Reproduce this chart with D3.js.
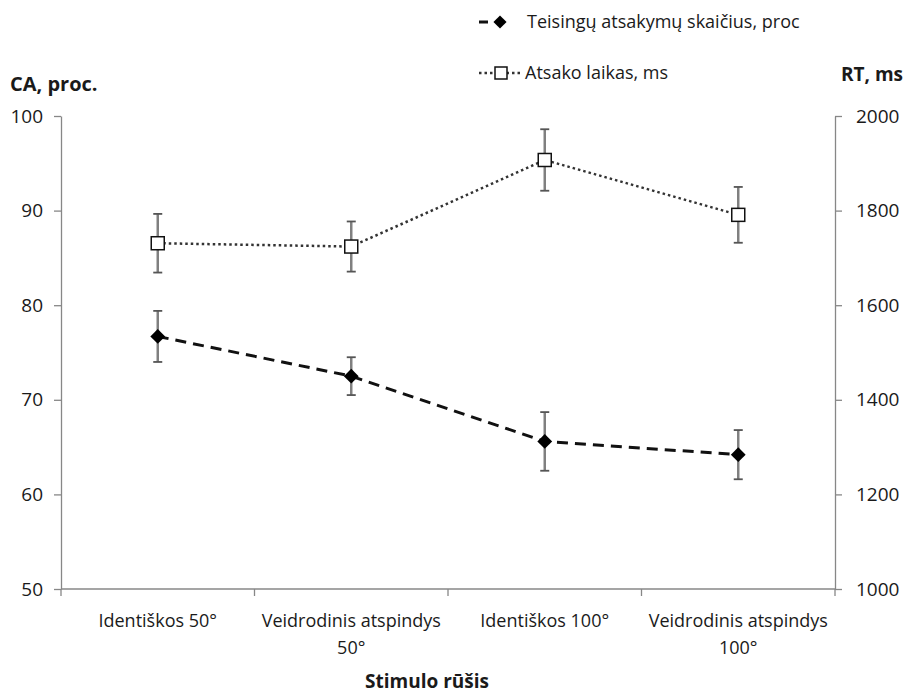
<!DOCTYPE html>
<html>
<head>
<meta charset="utf-8">
<script src="https://cdn.jsdelivr.net/npm/d3@7"></script>
<style>
  body { margin: 0; background: #fff; }
  svg text { font-family: "Open Sans", "Noto Sans", sans-serif; fill: #1a1a1a; }
</style>
</head>
<body>
<div id="chart"></div>
<script>
// categories on the x axis (each label split into lines)
var categories = [
    ['Identiškos 50°'],
    ['Veidrodinis atspindys', '50°'],
    ['Identiškos 100°'],
    ['Veidrodinis atspindys', '100°']
]

// CA (correct answers, %) with error
var caValues = [76.7, 72.5, 65.6, 64.2]
var caErrors = [2.7, 2.0, 3.1, 2.6]

// RT (response time, ms) with error
var rtValues = [1731, 1724, 1907, 1791]
var rtErrors = [62, 53, 65, 59]

var caTicks = [50, 60, 70, 80, 90, 100]
var rtTicks = [1000, 1200, 1400, 1600, 1800, 2000]

var seriesNames = ['Teisingų atsakymų skaičius, proc', 'Atsako laikas, ms']

var W = 907, H = 695
var plot = { left: 61, right: 835, top: 116, bottom: 589 }
var axisGrey = '#878787'

var svg = d3.select('#chart').append('svg')
    .attr('width', W)
    .attr('height', H)

// scales
var xScale = d3.scaleBand()
    .domain(d3.range(categories.length))
    .range([plot.left, plot.right])

var yLeft = d3.scaleLinear().domain([50, 100]).range([plot.bottom, plot.top])
var yRight = d3.scaleLinear().domain([1000, 2000]).range([plot.bottom, plot.top])

var cx = function(i) { return xScale(i) + xScale.bandwidth() / 2 }

// left axis
var leftAxis = svg.append('g')
    .attr('transform', 'translate(' + plot.left + ',0)')
    .call(d3.axisLeft(yLeft).tickValues(caTicks).tickSize(7).tickSizeOuter(0).tickPadding(11))
leftAxis.selectAll('.domain, line').attr('stroke', axisGrey).attr('stroke-width', 1.3)
leftAxis.selectAll('text').style('font-size', '19px').attr('fill', '#1a1a1a')

// right axis
var rightAxis = svg.append('g')
    .attr('transform', 'translate(' + plot.right + ',0)')
    .call(d3.axisRight(yRight).tickValues(rtTicks).tickFormat(d3.format('d'))
        .tickSize(7).tickSizeOuter(0).tickPadding(14))
rightAxis.selectAll('.domain, line').attr('stroke', axisGrey).attr('stroke-width', 1.3)
rightAxis.selectAll('text').style('font-size', '19px').attr('fill', '#1a1a1a')

// x axis (ticks between categories)
var xAxis = svg.append('g')
xAxis.append('line')
    .attr('x1', plot.left).attr('x2', plot.right)
    .attr('y1', plot.bottom).attr('y2', plot.bottom)
    .attr('stroke', axisGrey).attr('stroke-width', 1.3)
xAxis.selectAll('.xtick')
    .data(d3.range(categories.length + 1))
    .enter().append('line')
    .attr('x1', d => plot.left + d * xScale.step())
    .attr('x2', d => plot.left + d * xScale.step())
    .attr('y1', plot.bottom).attr('y2', plot.bottom + 7)
    .attr('stroke', axisGrey).attr('stroke-width', 1.3)

xAxis.selectAll('.xlabel')
    .data(categories)
    .enter().append('text')
    .attr('text-anchor', 'middle')
    .style('font-size', '18px')
    .each(function(d, i) {
        var t = d3.select(this)
        d.forEach(function(line, j) {
            t.append('tspan')
                .attr('x', cx(i))
                .attr('y', 627 + j * 27)
                .text(line)
        })
    })

// axis titles
svg.append('text').attr('x', 10).attr('y', 91)
    .style('font-size', '20px').style('font-weight', 'bold').text('CA, proc.')
svg.append('text').attr('x', 841).attr('y', 81)
    .style('font-size', '19px').style('font-weight', 'bold').text('RT, ms')
svg.append('text').attr('x', 427).attr('y', 688).attr('text-anchor', 'middle')
    .style('font-size', '19px').style('font-weight', 'bold').text('Stimulo rūšis')

// error bars
function errorBars(values, errors, scale) {
    var g = svg.append('g')
    values.forEach(function(v, i) {
        var x = cx(i), y1 = scale(v + errors[i]), y2 = scale(v - errors[i])
        g.append('line').attr('x1', x).attr('x2', x).attr('y1', y1).attr('y2', y2)
            .attr('stroke', '#808080').attr('stroke-width', 2.5)
        ;[y1, y2].forEach(function(y) {
            g.append('line').attr('x1', x - 4.5).attr('x2', x + 4.5).attr('y1', y).attr('y2', y)
                .attr('stroke', '#555').attr('stroke-width', 1.8)
        })
    })
}
errorBars(rtValues, rtErrors, yRight)
errorBars(caValues, caErrors, yLeft)

// RT line (dotted, white squares)
svg.append('path')
    .datum(rtValues)
    .attr('d', d3.line().x((d, i) => cx(i)).y(d => yRight(d)))
    .attr('fill', 'none')
    .attr('stroke', '#333')
    .attr('stroke-width', 2.5)
    .attr('stroke-dasharray', '2.5,3')

svg.append('g').selectAll('rect')
    .data(rtValues)
    .enter().append('rect')
    .attr('x', (d, i) => cx(i) - 6.5)
    .attr('y', d => yRight(d) - 6.5)
    .attr('width', 13).attr('height', 13)
    .attr('fill', '#fff').attr('stroke', '#111').attr('stroke-width', 1.5)

// CA line (dashed, black diamonds)
svg.append('path')
    .datum(caValues)
    .attr('d', d3.line().x((d, i) => cx(i)).y(d => yLeft(d)))
    .attr('fill', 'none')
    .attr('stroke', '#111')
    .attr('stroke-width', 3)
    .attr('stroke-dasharray', '11,7')

var diamond = d3.symbol().type(d3.symbolDiamond2).size(140)
svg.append('g').selectAll('path')
    .data(caValues)
    .enter().append('path')
    .attr('d', diamond)
    .attr('transform', (d, i) => 'translate(' + cx(i) + ',' + yLeft(d) + ')')
    .attr('fill', '#000')

// legend
var legend = svg.append('g')
var lg1 = legend.append('g').attr('transform', 'translate(0,22)')
lg1.append('line').attr('x1', 479).attr('x2', 524).attr('y1', 0).attr('y2', 0)
    .attr('stroke', '#111').attr('stroke-width', 3).attr('stroke-dasharray', '9,12,3,50')
lg1.append('path').attr('d', d3.symbol().type(d3.symbolDiamond2).size(110))
    .attr('transform', 'translate(500,0)').attr('fill', '#000')
lg1.append('text').attr('x', 527).attr('y', 6).style('font-size', '18px').text(seriesNames[0])

var lg2 = legend.append('g').attr('transform', 'translate(0,73)')
lg2.append('line').attr('x1', 479).attr('x2', 522).attr('y1', 0).attr('y2', 0)
    .attr('stroke', '#333').attr('stroke-width', 2.5).attr('stroke-dasharray', '2.5,3')
lg2.append('rect').attr('x', 495).attr('y', -6).attr('width', 12).attr('height', 12)
    .attr('fill', '#fff').attr('stroke', '#111').attr('stroke-width', 1.5)
lg2.append('text').attr('x', 525).attr('y', 6).style('font-size', '18px').text(seriesNames[1])
</script>
</body>
</html>
